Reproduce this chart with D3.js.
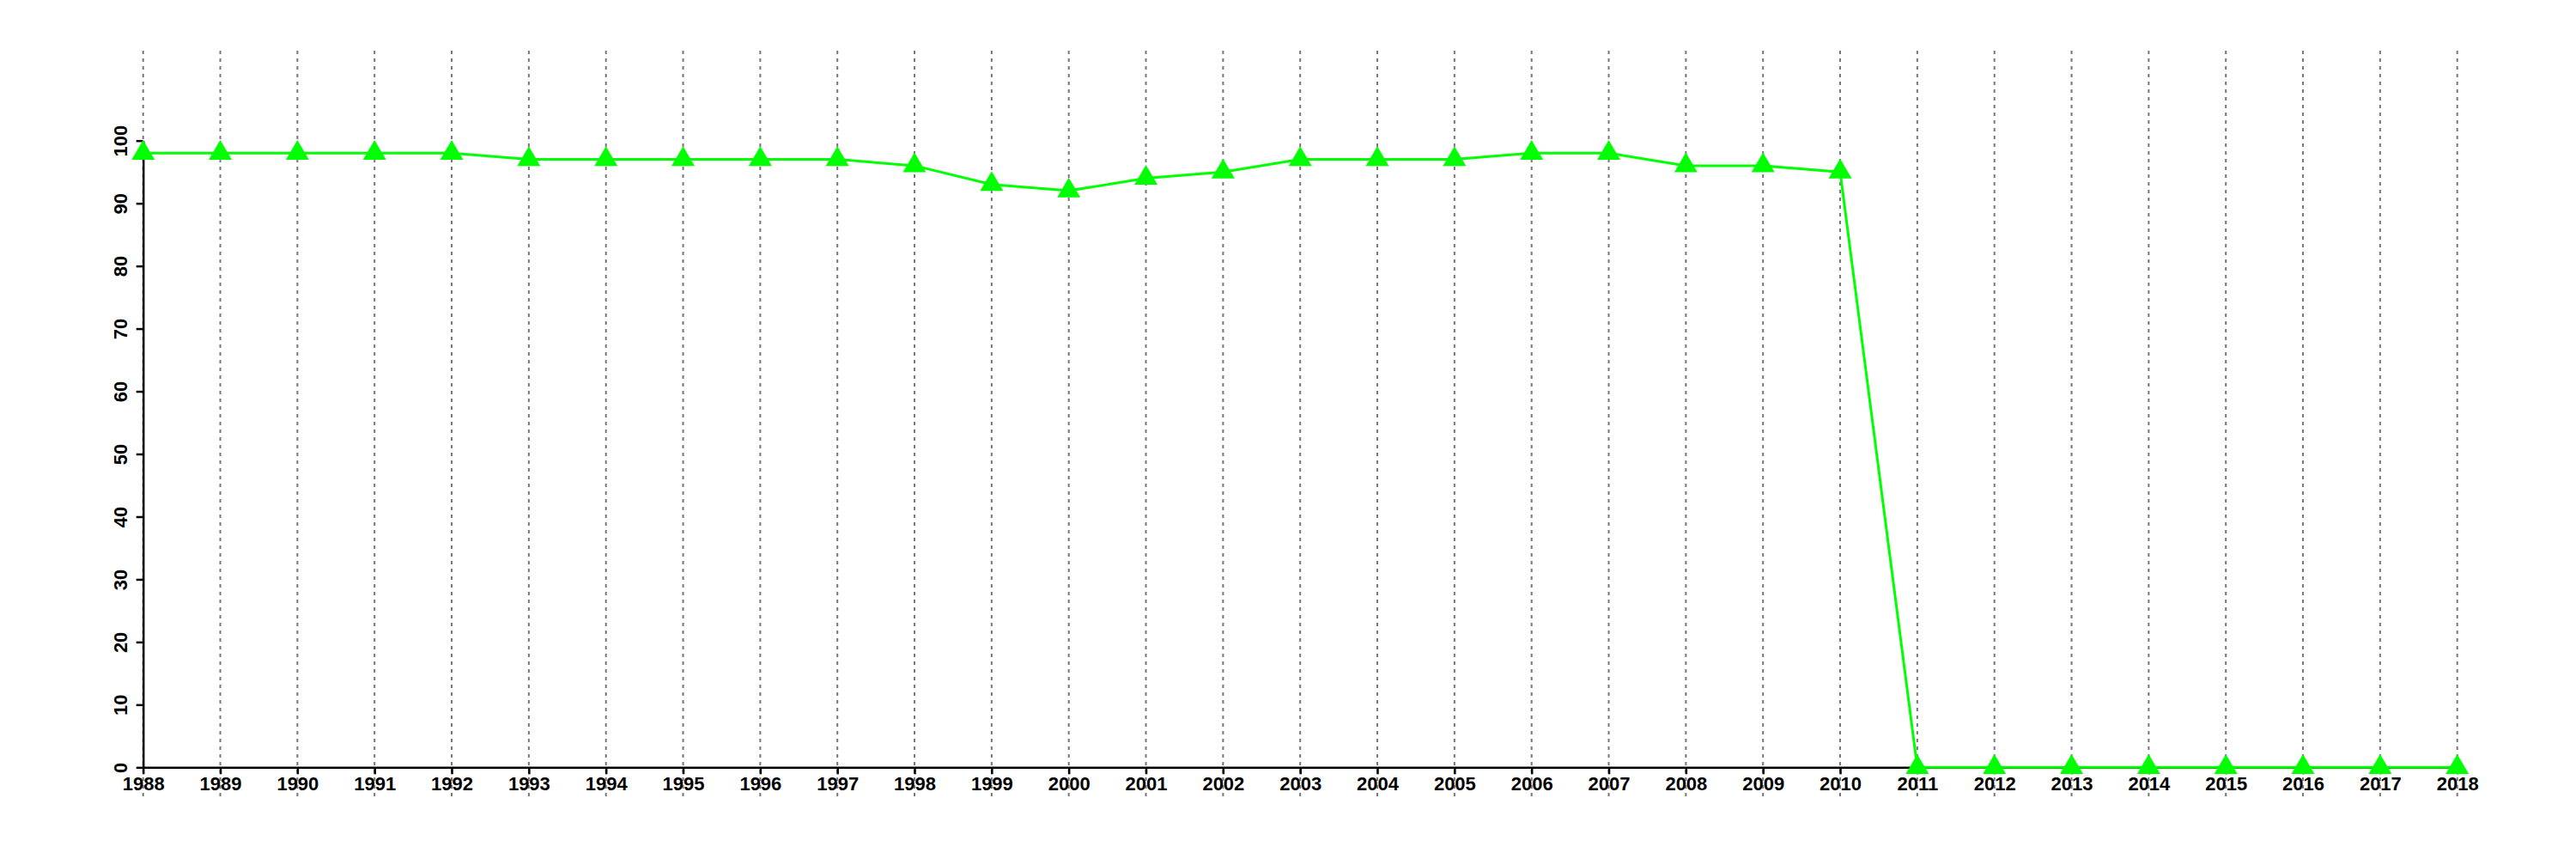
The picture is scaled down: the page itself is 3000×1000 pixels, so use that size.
<!DOCTYPE html>
<html>
<head>
<meta charset="utf-8">
<script src="https://cdn.jsdelivr.net/npm/d3@7"></script>
<style>
  html, body { margin: 0; padding: 0; background: #ffffff; }
  svg { display: block; }
  text { font-family: "Liberation Sans", Arial, Helvetica, sans-serif; font-weight: bold; }
</style>
</head>
<body>
<svg id="chart" width="3000" height="1000"></svg>
<script>
const years = [1988,1989,1990,1991,1992,1993,1994,1995,1996,1997,1998,1999,2000,2001,2002,2003,2004,2005,2006,2007,2008,2009,2010,2011,2012,2013,2014,2015,2016,2017,2018];
const values = [98,98,98,98,98,97,97,97,97,97,96,93,92,94,95,97,97,97,98,98,96,96,95,0,0,0,0,0,0,0,0];
const yTicks = [0,10,20,30,40,50,60,70,80,90,100];

const svg = d3.select("#chart");
const x = d3.scaleLinear().domain([1988, 2018]).range([166.7, 2861.7]);
const y = d3.scaleLinear().domain([0, 100]).range([893.3, 163.7]);

// vertical dotted gridlines
svg.append("g").selectAll("line").data(years).join("line")
  .attr("x1", d => x(d)).attr("x2", d => x(d))
  .attr("y1", 59).attr("y2", 928)
  .attr("stroke", "#777777").attr("stroke-width", 2)
  .attr("stroke-dasharray", "4,5");

// x axis
const xAxis = d3.axisBottom(x).tickValues(years).tickFormat(d3.format("d")).tickSize(8).tickSizeOuter(0);
const gx = svg.append("g").attr("transform", `translate(0,${y(0)})`).call(xAxis);
gx.select(".domain").attr("stroke", "#000").attr("stroke-width", 2.5);
gx.selectAll(".tick line").attr("stroke", "#000").attr("stroke-width", 2.5);
gx.selectAll(".tick text").attr("font-size", 22).attr("fill", "#000")
  .attr("y", 0).attr("dy", "26.5px")
  .style("font-family", '"Liberation Sans", Arial, sans-serif').style("font-weight", "bold");

// y axis
const yAxis = d3.axisLeft(y).tickValues(yTicks).tickSize(8).tickSizeOuter(0);
const gy = svg.append("g").attr("transform", `translate(${x(1988)},0)`).call(yAxis);
gy.select(".domain").attr("stroke", "#000").attr("stroke-width", 2.5);
gy.selectAll(".tick line").attr("stroke", "#000").attr("stroke-width", 2.5);
gy.selectAll(".tick text").attr("font-size", 22).attr("fill", "#000")
  .attr("x", null).attr("dy", null)
  .attr("text-anchor", "middle")
  .attr("transform", "translate(-18.5,0) rotate(-90)")
  .style("font-family", '"Liberation Sans", Arial, sans-serif').style("font-weight", "bold");

// line
const line = d3.line().x((d, i) => x(years[i])).y(d => y(d));
svg.append("path").datum(values)
  .attr("d", line).attr("fill", "none")
  .attr("stroke", "#00ff00").attr("stroke-width", 3);

// triangles
const tri = "M0,-15.4 L13.5,7.6 L-13.5,7.6 Z";
svg.append("g").selectAll("path").data(values).join("path")
  .attr("d", tri)
  .attr("transform", (d, i) => `translate(${x(years[i])},${y(d)})`)
  .attr("fill", "#00ff00");
</script>
</body>
</html>
